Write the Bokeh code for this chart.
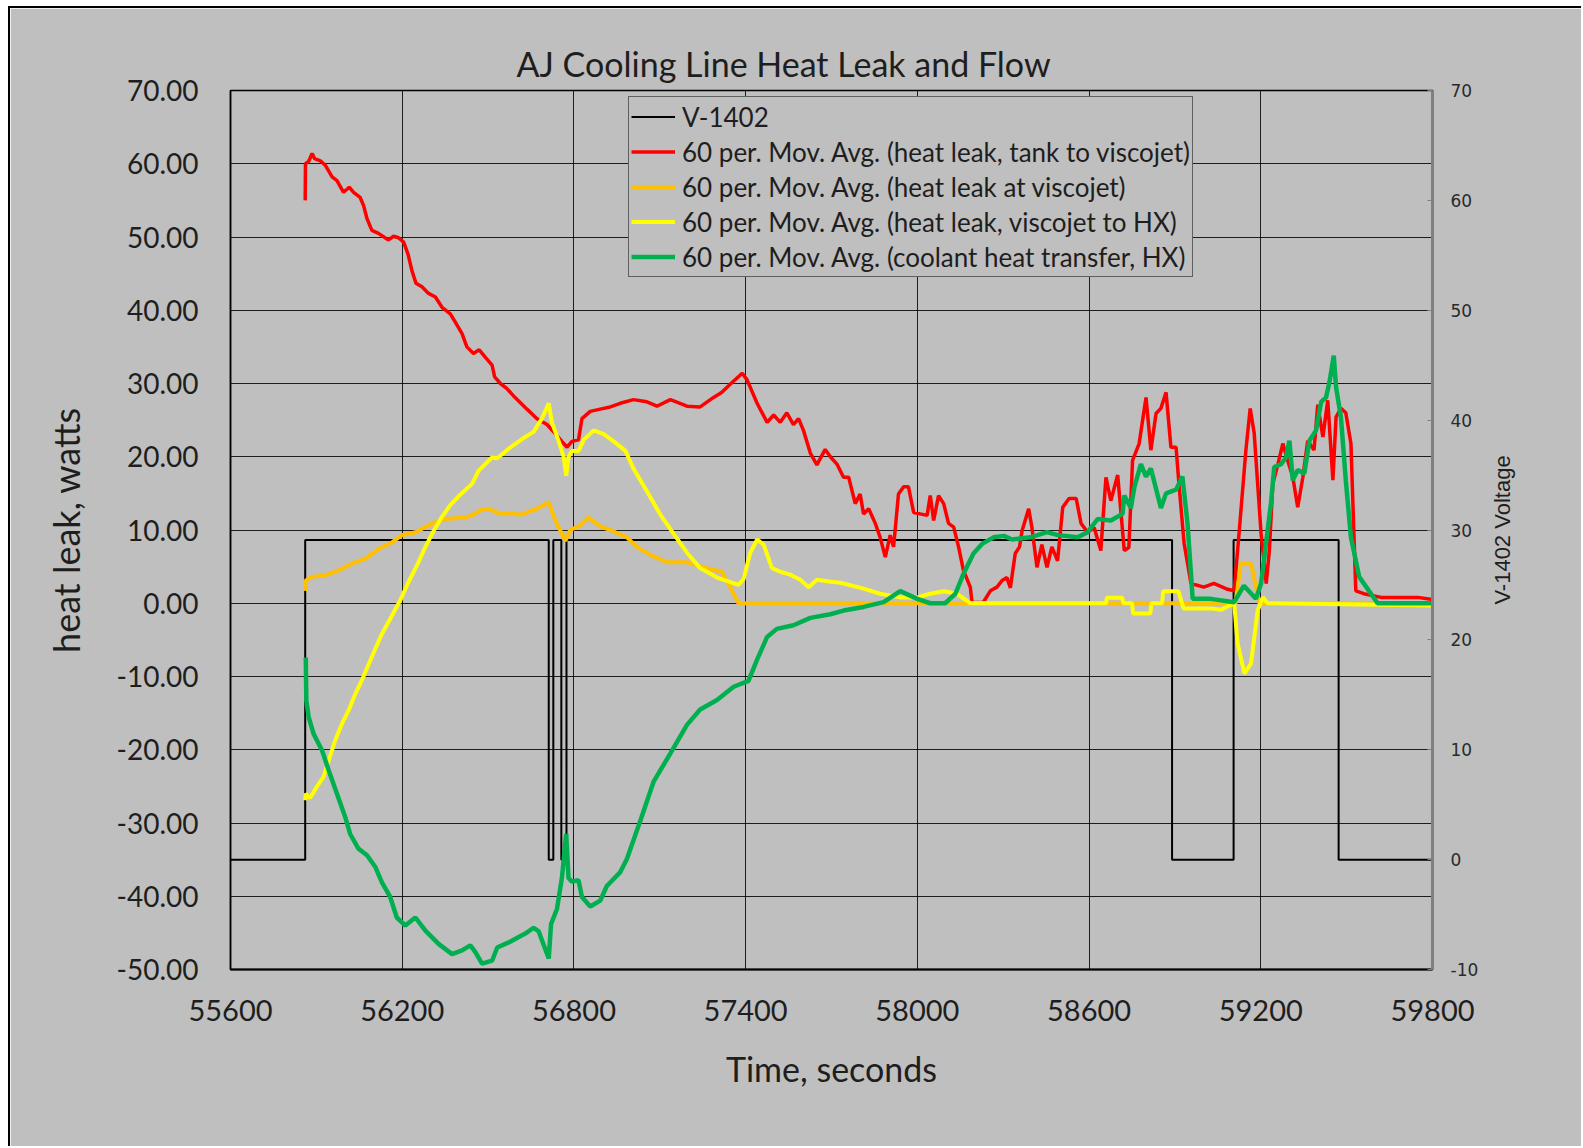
import math
from bokeh.plotting import figure
from bokeh.models import (Range1d, LinearAxis, FixedTicker, NumeralTickFormatter,
                          Legend, LegendItem, Label)
from bokeh.embed import file_html
from bokeh.resources import INLINE

# ---------------- data ----------------
x_ticks = [55600, 56200, 56800, 57400, 58000, 58600, 59200, 59800]
y_ticks = [-50, -40, -30, -20, -10, 0, 10, 20, 30, 40, 50, 60, 70]
v_ticks = [-10, 0, 10, 20, 30, 40, 50, 60, 70]

v_time = [55600, 55861, 55861, 56712, 56712, 56728, 56728, 56756, 56756, 56774, 56774,
          58890, 58890, 59105, 59105, 59472, 59472, 59800]
v_volt = [0, 0, 29.1, 29.1, 0, 0, 29.1, 29.1, 0, 0, 29.1,
          29.1, 0, 0, 29.1, 29.1, 0, 0]

red_time = [55861, 55862, 55873, 55885, 55894, 55914, 55931, 55955, 55972, 55995, 56015, 56030,
            56053, 56065, 56077, 56094, 56117, 56152, 56170, 56187, 56205, 56220, 56234, 56248,
            56269, 56292, 56316, 56339, 56368, 56385, 56409, 56426, 56449, 56469, 56490, 56514,
            56523, 56543, 56566, 56589, 56636, 56671, 56706, 56729, 56758, 56776, 56793, 56816,
            56828, 56857, 56892, 56927, 56962, 57008, 57055, 57090, 57137, 57195, 57241, 57288,
            57317, 57346, 57388, 57405, 57440, 57475, 57498, 57521, 57544, 57567, 57585, 57602,
            57626, 57649, 57678, 57696, 57719, 57742, 57760, 57783, 57800, 57812, 57830, 57853,
            57870, 57888, 57905, 57917, 57934, 57952, 57969, 57987, 58010, 58034, 58045, 58057,
            58074, 58092, 58109, 58127, 58144, 58161, 58185, 58191, 58230, 58255, 58278, 58296,
            58313, 58325, 58342, 58357, 58366, 58389, 58400, 58418, 58435, 58453, 58470, 58490,
            58508, 58530, 58555, 58572, 58595, 58618, 58641, 58659, 58676, 58700, 58723, 58739,
            58752, 58775, 58799, 58816, 58834, 58851, 58869, 58886, 58904, 58914, 58932, 58956,
            59001, 59036, 59084, 59107, 59124, 59148, 59163, 59177, 59201, 59219, 59230, 59242,
            59260, 59277, 59294, 59312, 59329, 59347, 59364, 59386, 59399, 59417, 59434, 59452,
            59463, 59480, 59497, 59515, 59532, 59560, 59620, 59748, 59800]
red_watts = [55.0, 60.0, 60.3, 61.4, 60.7, 60.4, 59.8, 58.2, 57.7, 56.1, 56.8, 56.1,
             55.4, 54.3, 52.5, 50.9, 50.5, 49.6, 50.1, 49.9, 49.3, 47.7, 45.4, 43.7,
             43.2, 42.3, 41.8, 40.4, 39.5, 38.4, 36.8, 35.0, 34.1, 34.6, 33.6, 32.5,
             30.9, 30.0, 29.3, 28.3, 26.5, 25.2, 24.4, 23.4, 22.1, 21.3, 22.1, 22.3,
             25.2, 26.2, 26.5, 26.8, 27.3, 27.8, 27.5, 26.9, 27.8, 26.9, 26.8, 28.1,
             28.8, 29.9, 31.4, 30.5, 27.3, 24.7, 25.7, 24.7, 26.0, 24.4, 25.2, 23.6,
             20.5, 18.9, 21.0, 20.0, 19.0, 17.2, 17.2, 13.6, 14.9, 12.2, 12.9, 10.9,
             9.0, 6.3, 9.3, 7.7, 14.9, 15.9, 15.9, 12.4, 12.2, 12.0, 14.7, 11.3,
             14.7, 13.6, 10.9, 10.4, 7.7, 4.5, 2.2, 0.1, 0.1, 1.7, 2.2, 3.1,
             3.5, 2.1, 6.8, 7.7, 9.9, 12.9, 10.4, 4.9, 8.0, 4.9, 7.7, 5.8,
             13.1, 14.3, 14.3, 10.9, 9.7, 10.3, 7.2, 17.2, 14.0, 17.5, 7.2, 7.6,
             19.5, 21.8, 28.1, 20.9, 25.9, 26.6, 28.8, 21.3, 21.3, 16.3, 8.2, 2.7,
             2.2, 2.7, 1.9, 1.7, 9.5, 20.9, 26.6, 23.2, 9.5, 2.7, 7.2, 16.3,
             19.0, 21.8, 19.5, 17.2, 13.1, 17.2, 22.2, 20.9, 27.1, 22.7, 27.7, 16.8,
             25.4, 26.6, 26.0, 21.8, 1.7, 1.3, 0.8, 0.8, 0.5]

orange_time = [55861, 55863, 55882, 55931, 55978, 56024, 56071, 56117, 56164, 56199, 56246,
               56304, 56351, 56420, 56443, 56479, 56502, 56537, 56613, 56671, 56712, 56735,
               56770, 56787, 56822, 56851, 56892, 56939, 56985, 57020, 57067, 57125, 57195,
               57265, 57317, 57346, 57375, 59112, 59130, 59166, 59195, 59800]
orange_watts = [1.7, 3.1, 3.6, 3.8, 4.5, 5.4, 6.1, 7.4, 8.3, 9.3, 9.7,
                10.9, 11.5, 11.7, 12.0, 12.8, 12.9, 12.3, 12.1, 12.9, 13.8, 11.3,
                8.5, 10.0, 10.6, 11.7, 10.5, 9.8, 9.0, 7.7, 6.6, 5.6, 5.6,
                4.8, 4.3, 2.2, 0.0, 0.0, 5.4, 5.4, 0.0, 0.0]

yellow_time = [55861, 55863, 55878, 55901, 55925, 55943, 55966, 55990, 56013, 56036, 56059,
               56083, 56106, 56129, 56164, 56193, 56222, 56252, 56281, 56310, 56339, 56368,
               56397, 56444, 56467, 56514, 56532, 56572, 56630, 56659, 56688, 56712, 56723,
               56747, 56764, 56773, 56781, 56793, 56816, 56834, 56869, 56904, 56939, 56980,
               57008, 57055, 57102, 57148, 57195, 57241, 57300, 57375, 57393, 57416, 57440,
               57463, 57492, 57521, 57556, 57591, 57620, 57649, 57684, 57731, 57812, 57870,
               57940, 58000, 58045, 58092, 58138, 58185, 58660, 58662, 58716, 58720, 58750,
               58754, 58814, 58818, 58855, 58859, 58912, 58930, 59026, 59060, 59107, 59119,
               59143, 59166, 59189, 59207, 59224, 59800]
yellow_watts = [-26.9, -26.0, -26.6, -25.1, -23.7, -21.5, -18.7, -16.4, -14.6, -12.4, -10.5,
                -8.3, -6.2, -4.2, -1.7, 0.4, 2.9, 5.2, 7.7, 9.9, 11.8, 13.4,
                14.6, 16.3, 18.1, 19.9, 19.8, 21.1, 22.7, 23.4, 25.2, 27.3, 24.7,
                22.1, 20.0, 17.4, 20.0, 20.8, 20.8, 22.3, 23.6, 23.1, 22.1, 20.8,
                18.4, 15.3, 12.1, 9.5, 6.9, 4.8, 3.5, 2.5, 3.3, 6.9, 8.7,
                8.0, 4.8, 4.3, 3.9, 3.2, 2.2, 3.2, 3.0, 2.8, 2.0, 1.3,
                0.8, 0.8, 1.3, 1.65, 1.3, 0.0, 0.0, 0.75, 0.75, 0.0, 0.0,
                -1.4, -1.4, 0.0, 0.0, 1.65, 1.65, -0.7, -0.7, -0.9, 0.0, -5.5,
                -9.6, -8.2, -1.0, 0.8, 0.0, -0.3]

green_time = [55863, 55865, 55873, 55890, 55920, 55943, 55972, 56001, 56018, 56047, 56077,
              56106, 56129, 56158, 56181, 56211, 56246, 56281, 56327, 56374, 56409, 56438,
              56455, 56479, 56514, 56532, 56572, 56630, 56659, 56677, 56712, 56720, 56741,
              56758, 56773, 56781, 56793, 56816, 56828, 56857, 56892, 56915, 56962, 56985,
              57032, 57078, 57137, 57195, 57241, 57300, 57358, 57410, 57440, 57475, 57509,
              57567, 57626, 57696, 57742, 57812, 57882, 57940, 58000, 58045, 58097, 58133,
              58161, 58196, 58226, 58266, 58302, 58331, 58395, 58453, 58491, 58560, 58595,
              58630, 58676, 58717, 58723, 58746, 58758, 58781, 58799, 58816, 58851, 58869,
              58904, 58926, 58944, 58962, 59026, 59107, 59141, 59183, 59201, 59236, 59247,
              59271, 59288, 59300, 59312, 59329, 59352, 59370, 59393, 59411, 59428, 59440,
              59455, 59463, 59480, 59497, 59515, 59544, 59608, 59800]
green_watts = [-7.4, -13.3, -15.5, -17.8, -20.1, -22.8, -26.0, -29.2, -31.5, -33.5, -34.4,
               -36.0, -38.1, -40.1, -42.9, -44.0, -42.9, -44.7, -46.5, -47.9, -47.4, -46.7,
               -47.6, -49.2, -48.8, -47.0, -46.3, -45.1, -44.3, -44.8, -48.5, -43.8, -41.7,
               -37.5, -31.5, -37.5, -38.0, -37.8, -40.1, -41.4, -40.6, -38.6, -36.7, -34.9,
               -29.7, -24.4, -20.5, -16.6, -14.5, -13.2, -11.4, -10.6, -7.7, -4.6, -3.5,
               -3.0, -2.0, -1.5, -1.0, -0.5, 0.15, 1.65, 0.6, 0.0, 0.0, 1.3,
               4.0, 6.8, 8.1, 9.0, 9.2, 8.7, 9.0, 9.7, 9.3, 9.0, 9.7,
               11.5, 11.3, 12.2, 14.7, 13.0, 15.8, 19.0, 17.3, 18.4, 13.0, 15.0,
               15.5, 17.3, 10.9, 0.6, 0.6, 0.15, 2.4, 0.6, 2.7, 13.8, 18.6,
               19.0, 19.9, 22.2, 16.8, 18.2, 17.7, 22.2, 23.6, 27.5, 28.1, 30.2,
               33.8, 29.5, 25.4, 16.8, 9.0, 3.6, 0.0, 0.0]

labels = ["V-1402",
          "60 per. Mov. Avg. (heat leak, tank to viscojet)",
          "60 per. Mov. Avg. (heat leak at viscojet)",
          "60 per. Mov. Avg. (heat leak, viscojet to HX)",
          "60 per. Mov. Avg. (coolant heat transfer, HX)"]
right_axis_title = "V-1402 Voltage"

# ---------------- figure ----------------
BG = "#BFBFBF"
TXT = "#1e1e1e"
FONT = "Lato"

p = figure(width=1573, height=1140,
           x_range=Range1d(55600, 59800), y_range=Range1d(-50, 70),
           output_backend="svg", toolbar_location=None,
           min_border_left=220, min_border_right=151,
           min_border_top=82, min_border_bottom=179,
           background_fill_color=BG, border_fill_color=BG,
           title="AJ Cooling Line Heat Leak and Flow")
p.styles = {"border-left": "2px solid black", "border-top": "2px solid black",
            "margin-left": "8px", "margin-top": "6px"}
p.outline_line_color = "black"
p.outline_line_width = 1.5

p.title.align = "left"
p.title.offset = 286
p.title.text_font = FONT
p.title.text_font_size = "34px"
p.title.text_font_style = "normal"
p.title.text_color = TXT
p.title.standoff = 14

p.extra_y_ranges = {"v": Range1d(-10, 70)}

# bottom axis
xa = p.xaxis[0]
xa.ticker = FixedTicker(ticks=x_ticks)
xa.formatter = NumeralTickFormatter(format="0")
xa.axis_label = "Time, seconds"
xa.axis_label_text_font = FONT
xa.axis_label_text_font_size = "34px"
xa.axis_label_text_font_style = "normal"
xa.axis_label_text_color = TXT
xa.axis_label_standoff = 24
xa.major_label_text_font = FONT
xa.major_label_text_font_size = "29px"
xa.major_label_text_color = TXT
xa.major_label_standoff = 30
xa.major_tick_out = 0
xa.major_tick_in = 0
xa.minor_tick_out = 0
xa.minor_tick_in = 0
xa.axis_line_color = "black"
xa.axis_line_width = 2

# left axis
ya = p.yaxis[0]
ya.ticker = FixedTicker(ticks=y_ticks)
ya.formatter = NumeralTickFormatter(format="0.00")
ya.axis_label = "heat leak, watts"
ya.axis_label_text_font = FONT
ya.axis_label_text_font_size = "36px"
ya.axis_label_text_font_style = "normal"
ya.axis_label_text_color = TXT
ya.axis_label_standoff = 26
ya.major_label_text_font = FONT
ya.major_label_text_font_size = "28px"
ya.major_label_text_color = TXT
ya.major_label_standoff = 32
ya.major_tick_out = 0
ya.major_tick_in = 0
ya.minor_tick_out = 0
ya.minor_tick_in = 0
ya.axis_line_color = "black"
ya.axis_line_width = 1.5

# right axis
ra = LinearAxis(y_range_name="v", ticker=FixedTicker(ticks=v_ticks),
                formatter=NumeralTickFormatter(format="0"))
ra.major_label_text_font = "DejaVu Sans"
ra.major_label_text_font_size = "17px"
ra.major_label_text_color = "#2a2a2a"
ra.major_label_standoff = 18
ra.major_tick_out = 0
ra.major_tick_in = 5
ra.major_tick_line_color = "#808080"
ra.minor_tick_out = 0
ra.minor_tick_in = 0
ra.axis_line_color = "#808080"
ra.axis_line_width = 3
p.add_layout(ra, "right")

# right axis title, in the right side panel, centred vertically on the frame
rt = Label(x=59800, y=30, y_range_name="v", x_offset=70, text=right_axis_title,
           angle=math.pi / 2, text_align="center", text_baseline="middle",
           text_font="Liberation Sans", text_font_size="22px", text_color=TXT)
p.add_layout(rt, "right")

# grids
p.xgrid.ticker = FixedTicker(ticks=x_ticks)
p.ygrid.ticker = FixedTicker(ticks=y_ticks)
for g in (p.xgrid, p.ygrid):
    g.grid_line_color = "black"
    g.grid_line_width = 1
    g.grid_line_alpha = 0.85

# lines
r_v = p.line(v_time, v_volt, line_color="black", line_width=2, y_range_name="v")
r_red = p.line(red_time, red_watts, line_color="#FF0000", line_width=3.5)
r_or = p.line(orange_time, orange_watts, line_color="#FFC000", line_width=4)
r_ye = p.line(yellow_time, yellow_watts, line_color="#FFFF00", line_width=4)
r_gr = p.line(green_time, green_watts, line_color="#00B050", line_width=4.5)

legend = Legend(items=[LegendItem(label=labels[0], renderers=[r_v]),
                       LegendItem(label=labels[1], renderers=[r_red]),
                       LegendItem(label=labels[2], renderers=[r_or]),
                       LegendItem(label=labels[3], renderers=[r_ye]),
                       LegendItem(label=labels[4], renderers=[r_gr])],
                location=(398, 692))
legend.label_text_font = FONT
legend.label_text_font_size = "26px"
legend.label_text_color = TXT
legend.label_height = 35
legend.glyph_height = 35
legend.glyph_width = 44
legend.label_standoff = 7
legend.spacing = 0
legend.padding = 2
legend.margin = 0
legend.border_line_color = "black"
legend.border_line_width = 1.2
legend.background_fill_color = BG
legend.background_fill_alpha = 1.0
p.add_layout(legend)

open("out.html", "w").write(file_html(p, INLINE))
